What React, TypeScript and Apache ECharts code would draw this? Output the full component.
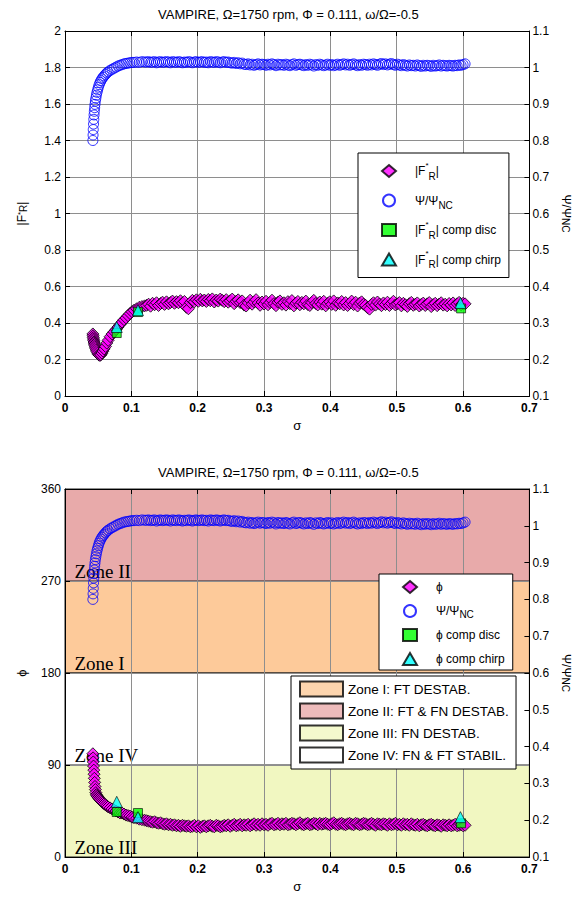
import { useEffect, useRef } from "react";
import * as echarts from "echarts";

// ---------------- data ----------------
const sigma = [
  0.042, 0.0423, 0.0426, 0.043, 0.0434, 0.0438, 0.0442, 0.0447, 0.0452, 0.0458,
  0.0465, 0.0473, 0.0482, 0.0492, 0.0503, 0.0515, 0.0528, 0.0542, 0.0557, 0.0573,
  0.059, 0.061, 0.063, 0.065, 0.068, 0.071, 0.074, 0.077, 0.08, 0.083,
  0.086, 0.089, 0.092, 0.095, 0.098, 0.101, 0.104, 0.108, 0.112, 0.116,
  0.12,
  0.123, 0.126, 0.129, 0.132, 0.135, 0.138, 0.141, 0.144, 0.147, 0.15,
  0.153, 0.156, 0.159, 0.162, 0.165, 0.168, 0.171, 0.174, 0.177, 0.18,
  0.183, 0.186, 0.189, 0.192, 0.195, 0.198, 0.201, 0.204, 0.207, 0.21,
  0.213, 0.216, 0.219, 0.222, 0.225, 0.228, 0.231, 0.234, 0.237, 0.24,
  0.243, 0.246, 0.249, 0.252, 0.255, 0.258, 0.261, 0.264, 0.267, 0.27,
  0.273, 0.276, 0.279, 0.282, 0.285, 0.288, 0.291, 0.294, 0.297, 0.3,
  0.303, 0.306, 0.309, 0.312, 0.315, 0.318, 0.321, 0.324, 0.327, 0.33,
  0.333, 0.336, 0.339, 0.342, 0.345, 0.348, 0.351, 0.354, 0.357, 0.36,
  0.363, 0.366, 0.369, 0.372, 0.375, 0.378, 0.381, 0.384, 0.387, 0.39,
  0.393, 0.396, 0.399, 0.402, 0.405, 0.408, 0.411, 0.414, 0.417, 0.42,
  0.423, 0.426, 0.429, 0.432, 0.435, 0.438, 0.441, 0.444, 0.447, 0.45,
  0.453, 0.456, 0.459, 0.462, 0.465, 0.468, 0.471, 0.474, 0.477, 0.48,
  0.483, 0.486, 0.489, 0.492, 0.495, 0.498, 0.501, 0.504, 0.507, 0.51,
  0.513, 0.516, 0.519, 0.522, 0.525, 0.528, 0.531, 0.534, 0.537, 0.54,
  0.543, 0.546, 0.549, 0.552, 0.555, 0.558, 0.561, 0.564, 0.567, 0.57,
  0.573, 0.576, 0.579, 0.582, 0.585, 0.588, 0.591, 0.594, 0.597, 0.6,
  0.603,
];

// Psi / Psi_NC (right axis)
const psiRatio = [
  0.8, 0.815, 0.83, 0.845, 0.858, 0.87, 0.88, 0.89, 0.899, 0.908,
  0.916, 0.924, 0.932, 0.939, 0.946, 0.953, 0.959, 0.964, 0.969, 0.973,
  0.977, 0.981, 0.985, 0.988, 0.992, 0.995, 0.998, 1.001, 1.004, 1.006,
  1.008, 1.01, 1.011, 1.012, 1.013, 1.014, 1.014, 1.015, 1.014, 1.016,
  1.015,
  1.015, 1.016, 1.014, 1.015, 1.016, 1.013, 1.015, 1.016, 1.014, 1.015,
  1.016, 1.015, 1.013, 1.016, 1.015, 1.014, 1.016, 1.015, 1.013, 1.015,
  1.014, 1.016, 1.015, 1.013, 1.015, 1.016, 1.014, 1.015, 1.016, 1.014,
  1.015, 1.013, 1.016, 1.015, 1.014, 1.016, 1.015, 1.013, 1.015, 1.016,
  1.014, 1.015, 1.013, 1.012, 1.014, 1.011, 1.013, 1.01, 1.012, 1.009,
  1.008, 1.01, 1.007, 1.009, 1.006, 1.008, 1.01, 1.007, 1.009, 1.008,
  1.006, 1.009, 1.007, 1.01, 1.008, 1.005, 1.009, 1.007, 1.008, 1.006,
  1.009, 1.007, 1.005, 1.008, 1.01, 1.006, 1.008, 1.009, 1.007, 1.005,
  1.008, 1.006, 1.009, 1.007, 1.004, 1.008, 1.006, 1.009, 1.007, 1.005,
  1.007, 1.009, 1.006, 1.008, 1.005, 1.007, 1.009, 1.006, 1.008, 1.01,
  1.007, 1.009, 1.006, 1.008, 1.01, 1.007, 1.005, 1.008, 1.006, 1.009,
  1.008, 1.006, 1.009, 1.007, 1.01, 1.008, 1.006, 1.009, 1.011, 1.008,
  1.01, 1.007, 1.009, 1.011, 1.008, 1.006, 1.009, 1.007, 1.005, 1.008,
  1.006, 1.004, 1.007, 1.005, 1.006, 1.004, 1.007, 1.005, 1.003, 1.006,
  1.004, 1.006, 1.005, 1.003, 1.006, 1.004, 1.005, 1.007, 1.004, 1.006,
  1.005, 1.004, 1.006, 1.005, 1.004, 1.006, 1.005, 1.007, 1.006, 1.008,
  1.01,
];

// |F*_R|
const frMag = [
  0.34, 0.33, 0.32, 0.312, 0.304, 0.296, 0.29, 0.283, 0.276, 0.268,
  0.26, 0.252, 0.244, 0.236, 0.228, 0.224, 0.222, 0.226, 0.235, 0.246,
  0.258, 0.272, 0.29, 0.305, 0.325, 0.34, 0.352, 0.365, 0.378, 0.392,
  0.405, 0.418, 0.428, 0.44, 0.452, 0.462, 0.47, 0.478, 0.486, 0.49,
  0.494,
  0.497, 0.503, 0.492, 0.508, 0.5, 0.511, 0.496, 0.507, 0.514, 0.502,
  0.516, 0.505, 0.512, 0.52, 0.508, 0.517, 0.511, 0.522, 0.509, 0.518,
  0.486, 0.478, 0.512, 0.524, 0.516, 0.527, 0.519, 0.53, 0.521, 0.526,
  0.518, 0.529, 0.522, 0.532, 0.515, 0.526, 0.52, 0.531, 0.524, 0.517,
  0.528, 0.514, 0.522, 0.531, 0.506, 0.519, 0.527, 0.512, 0.521, 0.498,
  0.493, 0.511, 0.525, 0.503, 0.516, 0.528, 0.509, 0.497, 0.515, 0.504,
  0.519, 0.5, 0.512, 0.525, 0.506, 0.495, 0.514, 0.521, 0.502, 0.511,
  0.498, 0.517, 0.506, 0.523, 0.494, 0.509, 0.518, 0.5, 0.513, 0.505,
  0.52, 0.501, 0.496, 0.512, 0.524, 0.507, 0.499, 0.515, 0.503, 0.519,
  0.494, 0.508, 0.516, 0.502, 0.521, 0.497, 0.51, 0.505, 0.518, 0.499,
  0.512, 0.496, 0.507, 0.52, 0.501, 0.514, 0.493, 0.509, 0.516, 0.503,
  0.497, 0.484, 0.476, 0.502, 0.511, 0.498, 0.515, 0.504, 0.495, 0.51,
  0.501, 0.514, 0.496, 0.507, 0.519, 0.499, 0.505, 0.512, 0.494, 0.508,
  0.5, 0.491, 0.506, 0.513, 0.497, 0.503, 0.51, 0.493, 0.502, 0.509,
  0.496, 0.505, 0.512, 0.49, 0.501, 0.508, 0.495, 0.504, 0.511, 0.498,
  0.503, 0.494, 0.507, 0.499, 0.51, 0.496, 0.505, 0.513, 0.5, 0.508,
  0.505,
];

// phi (deg)
const phiDeg = [
  101, 97, 93, 89, 85, 81, 77, 73, 69, 66,
  63, 61, 60, 59, 58, 57, 56, 55, 54, 53,
  52, 51, 50, 49, 48, 47, 46, 45, 44, 43,
  43, 42, 41, 40.5, 40, 39, 38.5, 38, 37, 36.5,
  36,
  35.5, 35, 34.5, 34, 34.5, 33.5, 33, 33.5, 32.5, 32,
  32.5, 31.5, 32, 31, 31.5, 30.5, 31, 30, 31, 30.5,
  30, 30.5, 29.5, 30, 31, 29.5, 30.5, 29, 30, 30.5,
  29.5, 30.5, 31, 30, 29.5, 31, 30.5, 29.5, 30, 31,
  30.5, 31.5, 30, 31, 32, 30.5, 31, 32, 30.5, 31.5,
  31, 32, 30.5, 31.5, 32.5, 31, 32, 31, 32.5, 31.5,
  32, 31, 32.5, 33, 31.5, 32, 33, 31.5, 32.5, 32,
  33, 31.5, 32, 33, 32.5, 31.5, 32.5, 33.5, 32, 31.5,
  32.5, 33, 31.5, 32, 33, 32.5, 31.5, 33, 32, 32.5,
  33, 32, 31.5, 32.5, 33.5, 32, 31.5, 32.5, 33, 32,
  31.5, 32.5, 33, 32, 31.5, 33, 32.5, 31.5, 32, 33,
  32.5, 31.5, 32, 33, 32, 31, 32.5, 32, 31.5, 32.5,
  32, 31, 32.5, 31.5, 32, 33, 31.5, 32, 31, 32.5,
  31.5, 32, 31, 32.5, 31.5, 31, 32, 30.5, 31.5, 32,
  31, 30.5, 31.5, 32, 31, 30.5, 31.5, 31, 30, 31.5,
  31, 30.5, 31.5, 30.5, 31, 32, 30.5, 31, 31.5, 30.5,
  31,
];

const compDiscSigma = [0.078, 0.11, 0.597];
const compChirpSigma = [0.078, 0.11, 0.596];
const frCompDisc = [0.345, 0.46, 0.48];
const frCompChirp = [0.378, 0.47, 0.51];
const phiCompDisc = [44, 43, 33];
const phiCompChirp = [54, 39, 39];

const zoneNames = [
  "Zone I: FT DESTAB.",
  "Zone II: FT & FN DESTAB.",
  "Zone III: FN DESTAB.",
  "Zone IV: FN & FT STABIL.",
];
const zoneLabels = ["Zone I", "Zone II", "Zone III", "Zone IV"];
const zoneFrom = [180, 270, 0, 90];
const zoneTo = [270, 360, 90, 180];

const titleText = "VAMPIRE, \u03A9=1750 rpm, \u03A6 = 0.111, \u03C9/\u03A9=-0.5";

// ---------------- styles ----------------
const FONT = "Liberation Sans";
const SERIF = "Liberation Serif";
const zoneColors = ["#FDCA9A", "#E8AAAA", "#F1F7C1", "#FFFFFF"];
const GRID_GRAY = "#8e8e8e";

const rich = {
  sup: { fontSize: 8, fontFamily: FONT, color: "#000", verticalAlign: "top", lineHeight: 8 },
  sub: { fontSize: 10, fontFamily: FONT, color: "#000", verticalAlign: "bottom", lineHeight: 10 },
};

const displayNames: Record<string, string> = {
  FR: "|F{sup|*}{sub|R}|",
  Psi: "\u03A8/\u03A8{sub|NC}",
  FRdisc: "|F{sup|*}{sub|R}| comp disc",
  FRchirp: "|F{sup|*}{sub|R}| comp chirp",
  phi: "\u03D5",
  Psi2: "\u03A8/\u03A8{sub|NC}",
  phidisc: "\u03D5 comp disc",
  phichirp: "\u03D5 comp chirp",
};

const pairs = (xs: number[], ys: number[]) =>
  xs.map((x, i) => [x, ys[i]]).filter((p) => p[1] !== undefined);

const round1 = (v: number) => String(Math.round(v * 10) / 10);

function xAxisBottom(gridIndex: number, z: number) {
  return {
    type: "value",
    gridIndex,
    min: 0,
    max: 0.7,
    interval: 0.1,
    position: "bottom",
    z,
    axisLine: { show: true, onZero: false, lineStyle: { color: "#000", width: 1 } },
    axisTick: { show: true, inside: true, length: 5, lineStyle: { color: "#000" } },
    axisLabel: {
      color: "#000",
      fontFamily: FONT,
      fontSize: 12,
      fontWeight: "bold",
      margin: 6,
      formatter: round1,
    },
    splitLine: { show: true, lineStyle: { color: GRID_GRAY, width: 1 } },
    name: "\u03C3",
    nameLocation: "middle",
    nameGap: 23,
    nameTextStyle: { fontFamily: FONT, fontSize: 13, color: "#000" },
  };
}

function xAxisTop(gridIndex: number, z: number) {
  return {
    type: "value",
    gridIndex,
    min: 0,
    max: 0.7,
    interval: 0.1,
    position: "top",
    z,
    axisLine: { show: true, onZero: false, lineStyle: { color: "#000", width: 1 } },
    axisTick: { show: true, inside: true, length: 5, lineStyle: { color: "#000" } },
    axisLabel: { show: false },
    splitLine: { show: false },
  };
}

function yAxisRight(gridIndex: number, z: number, name: string) {
  return {
    type: "value",
    gridIndex,
    min: 0.1,
    max: 1.1,
    interval: 0.1,
    position: "right",
    z,
    axisLine: { show: true, onZero: false, lineStyle: { color: "#000", width: 1 } },
    axisTick: { show: true, inside: true, length: 5, lineStyle: { color: "#000" } },
    axisLabel: { color: "#000", fontFamily: FONT, fontSize: 12, margin: 3, formatter: round1 },
    splitLine: { show: false },
    name,
    nameLocation: "middle",
    nameRotate: -90,
    nameGap: 26,
    nameTextStyle: { fontFamily: FONT, fontSize: 12, color: "#000", rich },
  };
}

const markerStyles = {
  diamond: { symbol: "diamond", symbolSize: 12, itemStyle: { color: "#FF00FF", borderColor: "#000", borderWidth: 1 } },
  circle: { symbol: "circle", symbolSize: 10, itemStyle: { color: "rgba(0,0,0,0)", borderColor: "#0000FF", borderWidth: 1 } },
  square: { symbol: "rect", symbolSize: 9, itemStyle: { color: "#00FF00", borderColor: "#000", borderWidth: 0.8 } },
  triangle: { symbol: "triangle", symbolSize: 11, itemStyle: { color: "#00FFFF", borderColor: "#000", borderWidth: 0.8 } },
};

export default function App() {
  const ref = useRef<HTMLDivElement>(null);

  useEffect(() => {
    document.body.style.margin = "0";
    if (!ref.current) return;
    const chart = echarts.init(ref.current, null, { renderer: "svg" });

    const legendText = (padLeft: number, lineHeight: number, fontSize: number) => ({
      fontFamily: FONT,
      fontSize,
      color: "#000",
      lineHeight,
      padding: [0, 0, 0, padLeft],
      rich,
    });

    const option: any = {
      animation: false,
      backgroundColor: "#fff",
      textStyle: { fontFamily: FONT },
      title: [
        {
          text: titleText,
          left: 158,
          top: 8,
          padding: 0,
          textStyle: { fontFamily: FONT, fontSize: 13, fontWeight: "normal", color: "#000" },
        },
        {
          text: titleText,
          left: 158,
          top: 466,
          padding: 0,
          textStyle: { fontFamily: FONT, fontSize: 13, fontWeight: "normal", color: "#000" },
        },
      ],
      grid: [
        { left: 65, top: 31, width: 466, height: 365, containLabel: false },
        { left: 65, top: 489, width: 466, height: 368, containLabel: false },
      ],
      xAxis: [xAxisBottom(0, 0), xAxisTop(0, 0), xAxisBottom(1, 1.5), xAxisTop(1, 1.5)],
      yAxis: [
        {
          type: "value",
          gridIndex: 0,
          min: 0,
          max: 2,
          interval: 0.2,
          position: "left",
          axisLine: { show: true, onZero: false, lineStyle: { color: "#000", width: 1 } },
          axisTick: { show: true, inside: true, length: 5, lineStyle: { color: "#000" } },
          axisLabel: { color: "#000", fontFamily: FONT, fontSize: 12, margin: 4, formatter: round1 },
          splitLine: { show: true, lineStyle: { color: GRID_GRAY, width: 1 } },
          name: "|F{sup|*}{sub|R}|",
          nameLocation: "middle",
          nameGap: 37,
          nameTextStyle: { fontFamily: FONT, fontSize: 12, color: "#000", rich },
        },
        yAxisRight(0, 0, "\u03A8/\u03A8{sub|NC}"),
        {
          type: "value",
          gridIndex: 1,
          min: 0,
          max: 360,
          interval: 90,
          position: "left",
          z: 1.5,
          axisLine: { show: true, onZero: false, lineStyle: { color: "#000", width: 1 } },
          axisTick: { show: true, inside: true, length: 5, lineStyle: { color: "#000" } },
          axisLabel: { color: "#000", fontFamily: FONT, fontSize: 12, margin: 4 },
          splitLine: { show: true, lineStyle: { color: GRID_GRAY, width: 1 } },
          name: "\u03D5",
          nameLocation: "middle",
          nameGap: 37,
          nameTextStyle: { fontFamily: FONT, fontSize: 13, color: "#000" },
        },
        yAxisRight(1, 1.5, "\u03A8/\u03A8{sub|NC}"),
      ],
      legend: [
        {
          orient: "vertical",
          left: 358,
          top: 153,
          padding: [8, 8, 8, 23],
          itemGap: 9.5,
          itemWidth: 14,
          itemHeight: 12,
          backgroundColor: "#fff",
          borderColor: "#000",
          borderWidth: 1,
          selectedMode: false,
          data: ["FR", "Psi", "FRdisc", "FRchirp"],
          formatter: (n: string) => displayNames[n] ?? n,
          textStyle: legendText(14, 20, 12),
        },
        {
          orient: "vertical",
          left: 379,
          top: 574,
          padding: [5, 8, 3, 23],
          itemGap: 8,
          itemWidth: 14,
          itemHeight: 12,
          backgroundColor: "#fff",
          borderColor: "#000",
          borderWidth: 1,
          selectedMode: false,
          data: ["phi", "Psi2", "phidisc", "phichirp"],
          formatter: (n: string) => displayNames[n] ?? n,
          textStyle: legendText(14, 16, 12),
        },
        {
          orient: "vertical",
          left: 291,
          top: 676,
          padding: [4.5, 7, 5.5, 8],
          itemGap: 5,
          itemWidth: 43,
          itemHeight: 15,
          backgroundColor: "#fff",
          borderColor: "#000",
          borderWidth: 1,
          selectedMode: false,
          data: zoneNames.map((name) => ({ name, icon: "rect" })),
          textStyle: { fontFamily: FONT, fontSize: 13.5, color: "#000", lineHeight: 15 },
        },
      ],
      series: [
        {
          name: "FR",
          type: "scatter",
          xAxisIndex: 0,
          yAxisIndex: 0,
          data: pairs(sigma, frMag),
          ...markerStyles.diamond,
        },
        {
          name: "Psi",
          type: "scatter",
          xAxisIndex: 0,
          yAxisIndex: 1,
          data: pairs(sigma, psiRatio),
          ...markerStyles.circle,
        },
        {
          name: "FRdisc",
          type: "scatter",
          xAxisIndex: 0,
          yAxisIndex: 0,
          data: pairs(compDiscSigma, frCompDisc),
          ...markerStyles.square,
        },
        {
          name: "FRchirp",
          type: "scatter",
          xAxisIndex: 0,
          yAxisIndex: 0,
          data: pairs(compChirpSigma, frCompChirp),
          ...markerStyles.triangle,
        },
        ...zoneNames.map((name, i) => ({
          name,
          type: "scatter",
          xAxisIndex: 2,
          yAxisIndex: 2,
          data: [],
          silent: true,
          itemStyle: { color: zoneColors[i], borderColor: "#000", borderWidth: 1 },
          markArea: {
            silent: true,
            itemStyle: { color: zoneColors[i], borderColor: "#222", borderWidth: 1 },
            label: {
              show: true,
              position: "insideBottomLeft",
              distance: 0,
              offset: [10, -1],
              fontFamily: SERIF,
              fontSize: 19,
              color: "#000",
            },
            data: [[{ yAxis: zoneFrom[i], name: zoneLabels[i] }, { yAxis: zoneTo[i] }]],
          },
        })),
        {
          name: "phi",
          type: "scatter",
          xAxisIndex: 2,
          yAxisIndex: 2,
          data: pairs(sigma, phiDeg),
          ...markerStyles.diamond,
        },
        {
          name: "Psi2",
          type: "scatter",
          xAxisIndex: 2,
          yAxisIndex: 3,
          data: pairs(sigma, psiRatio),
          ...markerStyles.circle,
        },
        {
          name: "phidisc",
          type: "scatter",
          xAxisIndex: 2,
          yAxisIndex: 2,
          data: pairs(compDiscSigma, phiCompDisc),
          ...markerStyles.square,
        },
        {
          name: "phichirp",
          type: "scatter",
          xAxisIndex: 2,
          yAxisIndex: 2,
          data: pairs(compChirpSigma, phiCompChirp),
          ...markerStyles.triangle,
        },
      ],
    };

    chart.setOption(option);
    return () => chart.dispose();
  }, []);

  return <div ref={ref} style={{ width: 580, height: 898 }} />;
}
